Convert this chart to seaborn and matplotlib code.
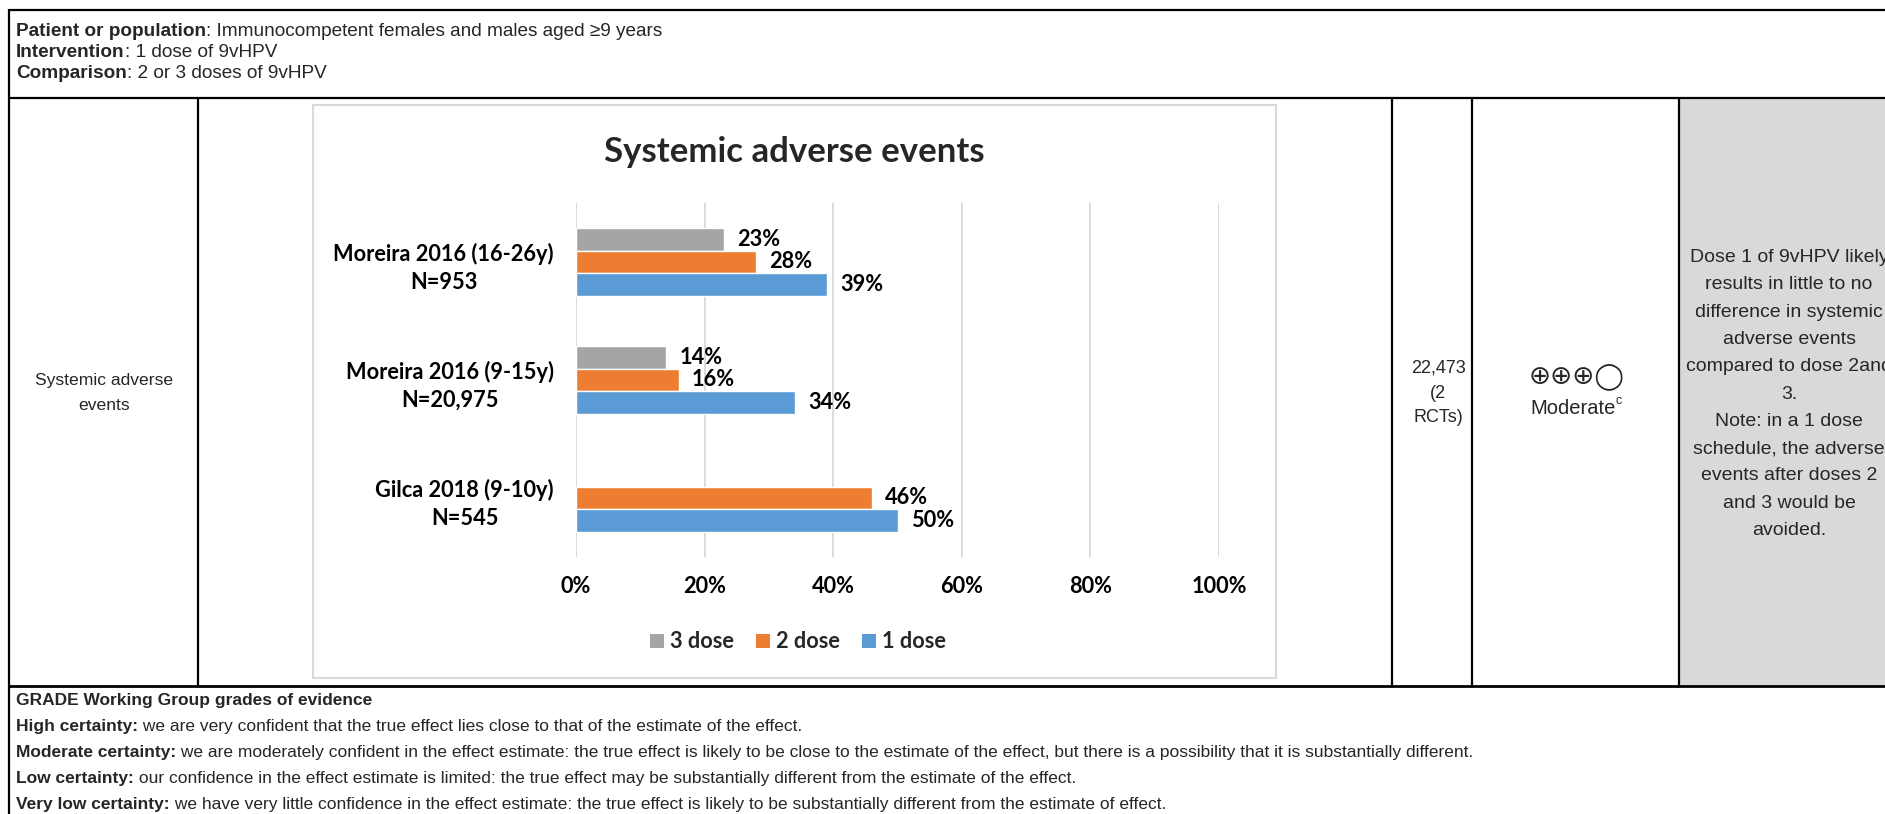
import numpy as np
import pandas as pd
import matplotlib
matplotlib.use("Agg")
import matplotlib.pyplot as plt
from matplotlib.patches import Rectangle, Patch
from matplotlib.lines import Line2D
import seaborn as sns

# ---- data -------------------------------------------------------------
studies = [
    "Moreira 2016 (16-26y)\nN=953",
    "Moreira 2016 (9-15y)\nN=20,975",
    "Gilca 2018 (9-10y)\nN=545",
]
doses = ["3 dose", "2 dose", "1 dose"]
pct_3dose = [23, 14, np.nan]
pct_2dose = [28, 16, 46]
pct_1dose = [39, 34, 50]
dose_colors = ["#A5A5A5", "#ED7D31", "#5B9BD5"]
x_ticks = [0, 20, 40, 60, 80, 100]
x_tick_labels = ["0%", "20%", "40%", "60%", "80%", "100%"]

header_rows = [
    ("Patient or population", ": Immunocompetent females and males aged \u22659 years"),
    ("Intervention", ": 1 dose of 9vHPV"),
    ("Comparison", ": 2 or 3 doses of 9vHPV"),
]
outcome_lines = ["Systemic adverse", "events"]
participant_lines = ["22,473", "(2", "RCTs)"]
certainty_symbols = "\u2295\u2295\u2295\u25EF"
certainty_word = "Moderate"
certainty_note = "c"
comment_lines = [
    "Dose 1 of 9vHPV likely",
    "results in little to no",
    "difference in systemic",
    "adverse events",
    "compared to dose 2and",
    "3.",
    "Note: in a 1 dose",
    "schedule, the adverse",
    "events after doses 2",
    "and 3 would be",
    "avoided.",
]
grade_title = "GRADE Working Group grades of evidence"
grade_rows = [
    ("High certainty:", " we are very confident that the true effect lies close to that of the estimate of the effect."),
    ("Moderate certainty:", " we are moderately confident in the effect estimate: the true effect is likely to be close to the estimate of the effect, but there is a possibility that it is substantially different."),
    ("Low certainty:", " our confidence in the effect estimate is limited: the true effect may be substantially different from the estimate of the effect."),
    ("Very low certainty:", " we have very little confidence in the effect estimate: the true effect is likely to be substantially different from the estimate of effect."),
]

# ---- figure setup -----------------------------------------------------
W, H, DPI = 1885, 814, 100
sns.set_theme(style="white")
table_font = ["Liberation Sans", "DejaVu Sans"]
chart_font = ["Lato", "DejaVu Sans"]
plt.rcParams["font.family"] = table_font

fig = plt.figure(figsize=(W / DPI, H / DPI), dpi=DPI)
fig.patch.set_facecolor("white")
renderer = fig.canvas.get_renderer()


def fx(px):
    return px / W


def fy(py):
    return 1 - py / H


def hline(y, x0, x1, lw=1.6):
    fig.add_artist(Line2D([fx(x0), fx(x1)], [fy(y), fy(y)], transform=fig.transFigure,
                          color="black", lw=lw, solid_capstyle="butt"))


def vline(x, y0, y1, lw=1.6):
    fig.add_artist(Line2D([fx(x), fx(x)], [fy(y0), fy(y1)], transform=fig.transFigure,
                          color="black", lw=lw, solid_capstyle="butt"))


def rich_line(x, y, bold, rest, size):
    t = fig.text(fx(x), fy(y), bold, fontsize=size, fontweight="bold",
                 ha="left", va="center", family=table_font)
    bb = t.get_window_extent(renderer=renderer)
    fig.text(fx(x) + bb.width / W, fy(y), rest, fontsize=size,
             ha="left", va="center", family=table_font)


def stack(x, yc, lines, step, size):
    n = len(lines)
    for i, s in enumerate(lines):
        y = yc + (i - (n - 1) / 2) * step
        fig.text(fx(x), fy(y), s, fontsize=size, ha="center", va="center",
                 family=table_font)


# ---- table grid -------------------------------------------------------
fig.add_artist(Rectangle((fx(1679), fy(686)), fx(W) - fx(1679), (686 - 98) / H,
                         transform=fig.transFigure, facecolor="#D9D9D9",
                         edgecolor="none", zorder=0.5))
hline(10, 9, W)
hline(98, 9, W)
hline(686, 9, W, lw=2.0)
vline(9, 9, H)
for xv in (198, 1392, 1472, 1679):
    vline(xv, 98, 686)

# ---- header text ------------------------------------------------------
for i, (b, r) in enumerate(header_rows):
    rich_line(16, 32 + 20.5 * i, b, r, 13.7)

# ---- row cells --------------------------------------------------------
stack(104, 393, outcome_lines, 25, 12.6)
stack(1438, 393, participant_lines, 25, 13)
fig.text(fx(1577), fy(377), certainty_symbols, fontsize=19, ha="center", va="center",
         family=["DejaVu Sans"])
mt = fig.text(fx(1573), fy(408), certainty_word, fontsize=14.5, ha="center", va="center",
              family=table_font)
mbb = mt.get_window_extent(renderer=renderer)
fig.text(mbb.x1 / W, fy(401), certainty_note, fontsize=9, ha="left", va="center",
         family=table_font)
stack(1789, 394, comment_lines, 27.3, 14)

# ---- footnote ---------------------------------------------------------
fig.text(fx(16), fy(701), grade_title, fontsize=12.5, fontweight="bold", ha="left",
         va="center", family=table_font)
for i, (b, r) in enumerate(grade_rows):
    rich_line(16, 727 + 26 * i, b, r, 12.5)

# ---- chart ------------------------------------------------------------
fig.add_artist(Rectangle((fx(313), fy(678)), fx(1276) - fx(313), (678 - 105) / H,
                         transform=fig.transFigure, fill=False, edgecolor="#D9D9D9",
                         lw=1.5, zorder=0.6))

df = pd.DataFrame({
    "study": studies * 3,
    "dose": np.repeat(doses, len(studies)),
    "pct": pct_3dose + pct_2dose + pct_1dose,
}).dropna()

ax = fig.add_axes([fx(576), fy(557), fx(1219) - fx(576), (557 - 203) / H])
sns.barplot(data=df, y="study", x="pct", hue="dose", hue_order=doses, order=studies,
            palette=dose_colors, orient="h", width=0.577, gap=0, saturation=1,
            errorbar=None, legend=False, ax=ax)

chart_size = 15.7
for cont in ax.containers:
    labels = [f"{v:.0f}%" for v in cont.datavalues]
    ax.bar_label(cont, labels=labels, padding=9.5, fontsize=chart_size, fontweight="bold",
                 family=chart_font, color="black")

ax.set_xlim(0, 100)
ax.set_ylim(2.5, -0.5)
ax.set_xticks(x_ticks)
ax.set_xticklabels(x_tick_labels)
ax.set_xlabel("")
ax.set_ylabel("")
ax.set_axisbelow(True)
ax.xaxis.grid(True, color="#D9D9D9", lw=1.3)
ax.yaxis.grid(False)
for s in ax.spines.values():
    s.set_visible(False)
ax.tick_params(axis="x", length=0, pad=14)
ax.tick_params(axis="y", length=0, pad=16)
for lab in ax.get_xticklabels() + ax.get_yticklabels():
    lab.set_fontfamily(chart_font)
    lab.set_fontweight("bold")
    lab.set_fontsize(chart_size)
    lab.set_color("black")
for lab in ax.get_yticklabels():
    lab.set_multialignment("center")
    lab.set_linespacing(1.45)

fig.text(fx(794.5), fy(152), "Systemic adverse events", fontsize=25, fontweight="bold",
         ha="center", va="center", family=chart_font)

handles = [Patch(facecolor=c, edgecolor="none", label=d) for d, c in zip(doses, dose_colors)]
fig.legend(handles=handles, loc="center", bbox_to_anchor=(fx(798), fy(642)), ncol=3,
           frameon=False, prop=dict(family=chart_font, weight="bold", size=chart_size),
           handlelength=0.65, handleheight=0.65, handletextpad=0.28, columnspacing=1.0)

fig.savefig("out.png", dpi=DPI, facecolor="white")
